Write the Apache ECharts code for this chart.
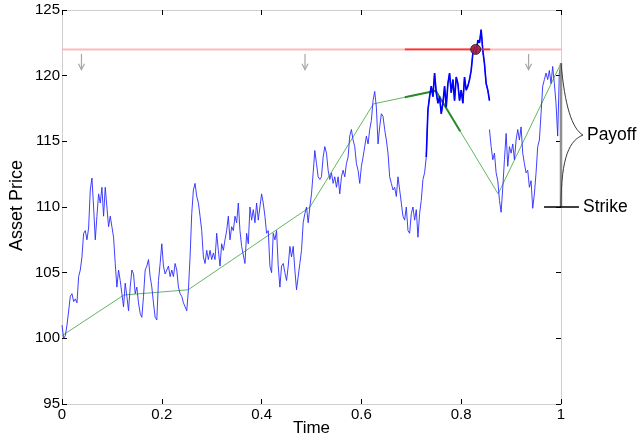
<!DOCTYPE html>
<html>
<head>
<meta charset="utf-8">
<script src="https://cdn.jsdelivr.net/npm/echarts@6/dist/echarts.min.js"></script>
<style>
html,body{margin:0;padding:0;background:#fff;}
#chart{width:637px;height:437px;}
</style>
</head>
<body>
<div id="chart"></div>
<script>
// ---------- DATA ----------
// Asset price path, sampled every 1/300 of the time axis (first piece: t = 0 .. 257/300)
const pathA = [
101.0,100.0,100.2,101.0,101.1,103.2,103.4,102.8,103.0,102.7,
104.7,105.2,106.2,108.0,108.2,107.5,108.4,111.3,112.2,110.0,
107.5,109.3,111.0,110.3,111.5,109.3,111.5,110.0,108.5,109.3,
108.5,107.7,105.7,103.9,105.2,104.4,103.4,102.4,104.2,103.2,
102.1,103.9,105.2,104.9,103.4,103.9,102.7,101.9,101.6,103.2,
105.2,105.5,106.0,104.7,103.9,102.7,101.6,101.4,104.4,105.7,
107.2,105.5,104.9,105.2,105.5,104.7,105.2,104.7,105.7,105.2,
103.9,103.4,103.2,102.7,102.6,102.1,103.7,106.2,109.5,111.3,
111.8,110.8,110.3,109.3,108.2,106.2,105.7,106.7,106.0,106.7,
106.0,106.5,106.0,108.0,106.7,105.5,107.2,106.7,107.5,108.2,
109.3,107.5,108.5,108.2,109.3,108.8,110.3,108.2,107.0,107.0,
105.7,108.0,107.2,110.0,109.0,109.8,108.8,110.3,109.0,110.0,
111.0,110.3,109.3,108.0,108.2,105.5,105.0,108.0,107.5,108.2,
105.5,103.9,105.5,105.7,105.0,104.4,105.5,107.0,106.2,107.0,
105.2,103.7,103.7,105.7,106.7,108.8,109.5,110.0,108.8,110.0,
111.0,112.6,114.3,113.3,112.3,112.1,112.3,113.8,114.6,114.1,
112.8,112.1,112.6,111.8,112.3,111.5,112.3,111.0,112.3,112.8,
112.3,113.3,113.8,115.4,115.9,115.1,114.6,113.3,112.8,111.8,
113.1,113.8,114.6,115.4,114.8,115.9,116.6,118.1,118.8,117.6,
114.8,116.1,117.1,116.9,115.9,115.1,114.1,112.3,111.8,111.3,
111.5,110.8,112.3,111.3,110.3,109.3,109.0,110.0,108.2,108.0,
109.5,110.0,109.0,109.8,107.7,109.5,110.5,112.1,112.6,113.8,
117.4,118.4,119.2,118.4,120.2,118.7,117.9,118.4,117.1,117.9,
119.2,117.6,119.4,120.2,118.7,119.7,118.1,119.9,119.4,118.1,
118.9,117.9,119.9,118.9,119.2,119.7,120.4,121.7,122.2,121.7,
122.7,122.5,123.5,121.9,120.9,119.4,118.9,118.1
];
// second piece of the path, starting at t = 257/300
const pathBStart = 257;
const pathB = [
115.9,114.6,113.6,114.1,112.6,112.0,110.5,109.6,111.5,113.6,
115.6,113.1,114.6,114.1,114.8,113.6,115.1,115.9,115.1,116.1,
114.1,113.3,112.6,112.8,111.5,112.0,109.9,111.0,112.6,114.6,
115.1,117.1,119.2,119.7,120.2,119.7,120.4,119.4,120.7,119.4,
117.9,115.4,120.2,120.9
];
const timeStep = 1 / 300;
const boldFrom = 219; // emphasised part of the first piece

// green polyline
const greenT = [0, 0.124, 0.19, 0.253, 0.497, 0.624, 0.749, 0.874, 1];
const greenV = [100.2, 103.3, 103.5, 103.7, 110.0, 117.85, 118.85, 111.0, 120.95];
const darkGreenT = [0.687, 0.749, 0.798];
const darkGreenV = [118.35, 118.85, 115.77];

// barrier
const barrier = 122;
const barrierT = [0, 1];
const barrierHiT = [0.687, 0.858];
const hitPoint = [0.829, 122.0];

// monitoring arrows
const arrowT = [0.039, 0.487, 0.935];
const arrowTop = 121.65;
const arrowBottom = 120.45;

// payoff annotation
const strike = 110;
const finalPrice = 120.95;
const strikeLineT = [0.966, 1.036];
const braceTipT = 1.044;
const labels = {payoff: 'Payoff', strike: 'Strike', x: 'Time', y: 'Asset Price'};

// axes
const xMin = 0, xMax = 1, xInterval = 0.2;
const yMin = 95, yMax = 125, yInterval = 5;

// ---------- CHART ----------
const FONT = 'Liberation Sans, Arial, Helvetica, sans-serif';
const chart = echarts.init(document.getElementById('chart'), null, {renderer: 'canvas'});

const dataA = pathA.map((v, i) => [i * timeStep, v]);
const dataABold = dataA.slice(boldFrom);
const dataB = pathB.map((v, j) => [(pathBStart + j) * timeStep, v]);
const greenData = greenT.map((t, i) => [t, greenV[i]]);
const darkGreenData = darkGreenT.map((t, i) => [t, darkGreenV[i]]);

const axisLineStyle = {show: true, onZero: false, lineStyle: {color: '#cfcfcf', width: 1}};
const tickStyle = {show: true, inside: true, length: 5, lineStyle: {color: '#000', width: 1}};

const option = {
  animation: false,
  backgroundColor: '#fff',
  grid: {left: 62, right: 76, top: 10, bottom: 33, containLabel: false, outerBoundsMode: 'none'},
  xAxis: [
    {type: 'value', min: xMin, max: xMax, interval: xInterval, position: 'bottom',
     axisLine: axisLineStyle, axisTick: tickStyle, splitLine: {show: false},
     axisLabel: {color: '#000', fontSize: 15, fontFamily: FONT, margin: 3},
     name: labels.x, nameLocation: 'middle', nameGap: 16, nameMoveOverlap: false,
     nameTextStyle: {color: '#000', fontSize: 17, fontFamily: FONT}},
    {type: 'value', min: xMin, max: xMax, interval: xInterval, position: 'top',
     axisLine: axisLineStyle, axisTick: tickStyle, splitLine: {show: false},
     axisLabel: {show: false}}
  ],
  yAxis: [
    {type: 'value', min: yMin, max: yMax, interval: yInterval, position: 'left',
     axisLine: axisLineStyle, axisTick: tickStyle, splitLine: {show: false},
     axisLabel: {color: '#000', fontSize: 15, fontFamily: FONT, margin: 2},
     name: labels.y, nameLocation: 'middle', nameGap: 36, nameRotate: 90, nameMoveOverlap: false,
     nameTextStyle: {color: '#000', fontSize: 18, fontFamily: FONT, padding: [0, 0, 0, 3]}},
    {type: 'value', min: yMin, max: yMax, interval: yInterval, position: 'right',
     axisLine: axisLineStyle, axisTick: tickStyle, splitLine: {show: false},
     axisLabel: {show: false}}
  ],
  series: [
    {type: 'line', name: 'barrier', data: barrierT.map(t => [t, barrier]), symbol: 'none',
     lineStyle: {color: '#ffb9b9', width: 2}, z: 1, silent: true},
    {type: 'line', name: 'green', data: greenData, symbol: 'none',
     lineStyle: {color: '#62b862', width: 1}, z: 2, silent: true},
    {type: 'line', name: 'greenHi', data: darkGreenData, symbol: 'none',
     lineStyle: {color: '#2a8a2a', width: 2}, z: 2, silent: true},
    {type: 'line', name: 'pathA', data: dataA, symbol: 'none',
     lineStyle: {color: '#2a2aff', width: 0.9}, z: 3, silent: true},
    {type: 'line', name: 'pathABold', data: dataABold, symbol: 'none',
     lineStyle: {color: '#0000ff', width: 1.6}, z: 3, silent: true},
    {type: 'line', name: 'pathB', data: dataB, symbol: 'none',
     lineStyle: {color: '#2a2aff', width: 0.9}, z: 3, silent: true},
    {type: 'line', name: 'barrierHi', data: barrierHiT.map(t => [t, barrier]), symbol: 'none',
     lineStyle: {color: '#ff3030', width: 1.6}, z: 4, silent: true},
    {type: 'scatter', name: 'hit', data: [hitPoint], symbol: 'circle', symbolSize: 10,
     itemStyle: {color: '#a01e40', borderColor: '#222', borderWidth: 1, opacity: 0.9}, z: 5, silent: true},
    {type: 'custom', name: 'arrows', data: arrowT.map(t => [t, arrowTop, arrowBottom]),
     z: 4, silent: true, clip: false,
     renderItem: function (params, api) {
       const p1 = api.coord([api.value(0), api.value(1)]);
       const p2 = api.coord([api.value(0), api.value(2)]);
       const st = {stroke: '#a6a6a6', lineWidth: 1.2, fill: null};
       return {type: 'group', children: [
         {type: 'line', shape: {x1: p1[0], y1: p1[1], x2: p2[0], y2: p2[1]}, style: st},
         {type: 'polyline', shape: {points: [[p2[0] - 3, p2[1] - 6], [p2[0], p2[1]], [p2[0] + 3, p2[1] - 6]]}, style: st}
       ]};
     }},
    {type: 'custom', name: 'payoff', data: [[xMax, finalPrice, strike]],
     z: 6, silent: true, clip: false,
     renderItem: function (params, api) {
       const top = api.coord([api.value(0), api.value(1)]);
       const bot = api.coord([api.value(0), api.value(2)]);
       const tip = api.coord([braceTipT, (api.value(1) + api.value(2)) / 2]);
       const sl = api.coord([strikeLineT[0], strike]);
       const sr = api.coord([strikeLineT[1], strike]);
       const w = tip[0] - top[0];
       const h1 = tip[1] - top[1];
       const h2 = bot[1] - tip[1];
       const braceStyle = {stroke: '#3a3a3a', lineWidth: 1, fill: null};
       return {type: 'group', children: [
         {type: 'line', shape: {x1: top[0], y1: top[1], x2: bot[0], y2: bot[1]},
          style: {stroke: '#8f8f8f', lineWidth: 2.5}},
         {type: 'bezierCurve', shape: {x1: top[0], y1: top[1],
           cpx1: top[0] + 0.17 * w, cpy1: top[1] + 0.59 * h1,
           cpx2: top[0] + 0.5 * w, cpy2: top[1] + 0.91 * h1,
           x2: tip[0], y2: tip[1]}, style: braceStyle},
         {type: 'bezierCurve', shape: {x1: tip[0], y1: tip[1],
           cpx1: bot[0] + 0.42 * w, cpy1: tip[1] + 0.07 * h2,
           cpx2: bot[0], cpy2: tip[1] + 0.28 * h2,
           x2: bot[0], y2: bot[1]}, style: braceStyle},
         {type: 'line', shape: {x1: sl[0], y1: sl[1], x2: sr[0], y2: sr[1]},
          style: {stroke: '#000', lineWidth: 1.3}},
         {type: 'text', x: tip[0] + 4, y: tip[1],
          style: {text: labels.payoff, fill: '#000', font: '17.5px ' + FONT, verticalAlign: 'middle', align: 'left'}},
         {type: 'text', x: sr[0] + 4, y: sr[1],
          style: {text: labels.strike, fill: '#000', font: '17.5px ' + FONT, verticalAlign: 'middle', align: 'left'}}
       ]};
     }}
  ]
};
chart.setOption(option);
</script>
</body>
</html>
